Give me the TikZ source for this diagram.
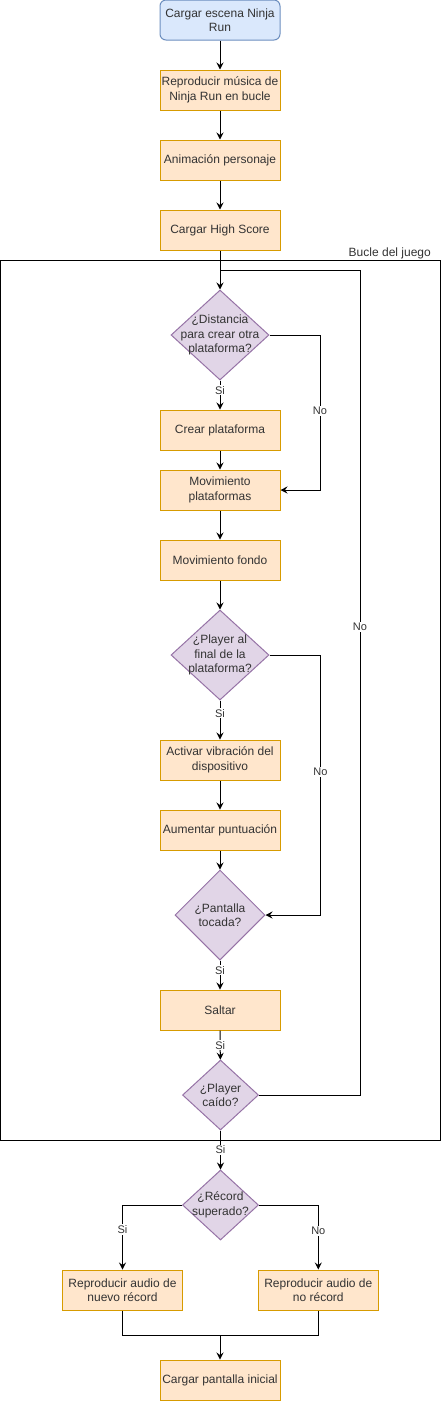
\documentclass[tikz,border=0pt]{standalone}
\usepackage{fontspec}
\setmainfont{Liberation Sans}
\usetikzlibrary{shapes.geometric,arrows.meta}
\definecolor{txt}{HTML}{333333}
\definecolor{ofill}{HTML}{FFE6CC}
\definecolor{odraw}{HTML}{D79B00}
\definecolor{pfill}{HTML}{E1D5E7}
\definecolor{pdraw}{HTML}{9673A6}
\definecolor{bfill}{HTML}{DAE8FC}
\definecolor{bdraw}{HTML}{6C8EBF}
\tikzset{
  x=1pt, y=-1pt,
  proc/.style={draw=odraw, fill=ofill, line width=1pt, minimum width=120pt, minimum height=40pt, inner sep=0pt, align=center, text=txt, font=\fontsize{12}{14.4}\selectfont},
  startbox/.style={proc, draw=bdraw, fill=bfill, rounded corners=6pt},
  dec/.style={draw=pdraw, fill=pfill, line width=1pt, shape=diamond, inner sep=0pt, minimum width=98pt, minimum height=90pt},
  dectext/.style={align=center, text=txt, font=\fontsize{12}{14.4}\selectfont, inner sep=0pt},
  arr/.style={line width=1pt, -{Stealth[length=7pt,width=7pt,inset=2.5pt]}},
  ln/.style={line width=1pt},
  elab/.style={fill=white, text=txt, font=\fontsize{11}{13}\selectfont, inner sep=1pt},
}
\begin{document}
\begin{tikzpicture}
\useasboundingbox (0,0) rectangle (441,1401);
% frame
\draw[ln] (0.5,260.5) rectangle (440.5,1140) coordinate (framecorner);
\node[anchor=south east, text=txt, font=\fontsize{12}{14.4}\selectfont, inner sep=0pt] (looplabel) at (431,259) {Bucle del juego};

\node[startbox] (start) at (220,20) {Cargar escena Ninja\\Run};
\node[proc] (musica) at (220,90) {Reproducir música de\\Ninja Run en bucle};
\node[proc] (anim) at (220,160) {Animación personaje};
\node[proc] (hs) at (220,230) {Cargar High Score};
\node[dec, label={[dectext]center:{¿Distancia\\para crear otra\\plataforma?}}] (d1) at (220,335) {};
\node[proc] (crear) at (220,430) {Crear plataforma};
\node[proc] (movp) at (220,490) {Movimiento\\plataformas};
\node[proc] (fondo) at (220,560) {Movimiento fondo};
\node[dec, label={[dectext]center:{¿Player al\\final de la\\plataforma?}}] (d2) at (220,655) {};
\node[proc] (vib) at (220,760) {Activar vibración del\\dispositivo};
\node[proc] (punt) at (220,830) {Aumentar puntuación};
\node[dec, minimum width=90pt, minimum height=90pt, label={[dectext]center:{¿Pantalla\\tocada?}}] (d3) at (220,915) {};
\node[proc] (saltar) at (220,1010) {Saltar};
\node[dec, minimum width=76pt, minimum height=70pt, label={[dectext]center:{¿Player\\caído?}}] (d4) at (220.5,1095) {};
\node[dec, minimum width=76pt, minimum height=70pt, label={[dectext]center:{¿Récord\\superado?}}] (d5) at (220.5,1205) {};
\node[proc] (nuevo) at (122.5,1290) {Reproducir audio de\\nuevo récord};
\node[proc] (norec) at (318.3,1290) {Reproducir audio de\\no récord};
\node[proc] (inicial) at (220,1380) {Cargar pantalla inicial};

\coordinate (join) at (220,270.5);
\coordinate (loopr) at (360,270.5);
\coordinate (merge) at (220,1335.5);

\draw[arr] (start) -- (musica);
\draw[arr] (musica) -- (anim);
\draw[arr] (anim) -- (hs);
\draw[arr] (hs) -- (d1);
\draw[arr] (d1) -- node[elab, pos=0.33] {Si} (crear);
\draw[arr] (d1.east) -- ++(50.5,0) |- node[elab, pos=0.245] {No} (movp.east);
\draw[arr] (crear) -- (movp);
\draw[arr] (movp) -- (fondo);
\draw[arr] (fondo) -- (d2);
\draw[arr] (d2) -- node[elab, pos=0.33] {Si} (vib);
\draw[arr] (d2.east) -- ++(51,0) |- node[elab, pos=0.225] {No} (d3.east);
\draw[arr] (vib) -- (punt);
\draw[arr] (punt) -- (d3);
\draw[arr] (d3) -- node[elab, pos=0.33] {Si} (saltar);
\draw[arr] (saltar) -- node[elab, pos=0.5] {Si} (d4);
\draw[ln] (d4.east) -| node[elab, pos=0.784] {No} (loopr) -- (join);
\draw[arr] (d4) -- node[elab, pos=0.5] {Si} (d5);
\draw[arr] (d5.west) -| node[elab, pos=0.69] {Si} (nuevo.north);
\draw[arr] (d5.east) -| node[elab, pos=0.70] {No} (norec.north);
\draw[ln] (nuevo.south) |- (merge);
\draw[ln] (norec.south) |- (merge);
\draw[arr] (merge) -- (inicial);
\end{tikzpicture}
\end{document}
